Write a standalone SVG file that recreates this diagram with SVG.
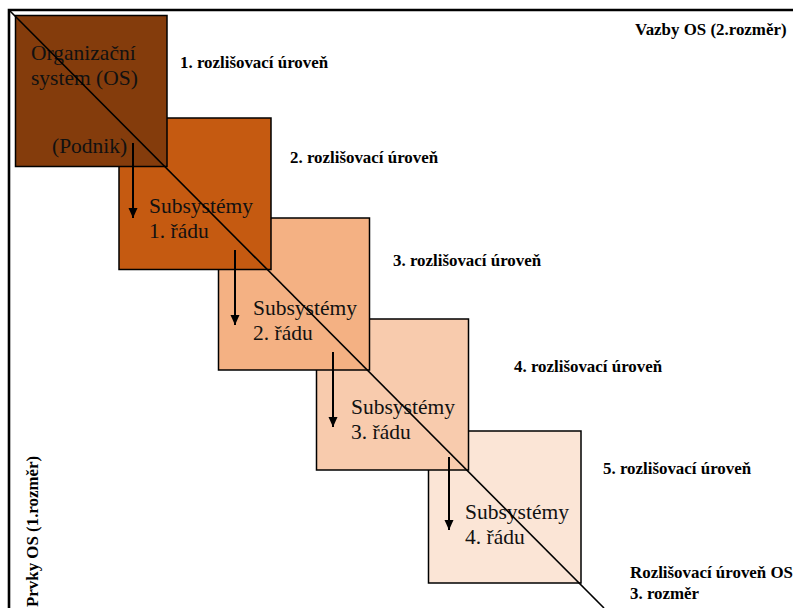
<svg xmlns="http://www.w3.org/2000/svg" width="793" height="608" viewBox="0 0 793 608">
  <style>
    .box { stroke: #000; stroke-width: 1.5; }
    .big { font-family: "Liberation Serif", "Times New Roman", serif; font-size: 21.5px; fill: #111; }
    .lbl { font-family: "Liberation Serif", "Times New Roman", serif; font-size: 16.9px; font-weight: bold; fill: #000; }
    .frame { stroke: #000; stroke-width: 2.6; fill: none; }
    .diag { stroke: #000; stroke-width: 1.6; }
    .arr { stroke: #000; stroke-width: 2; marker-end: url(#head); }
  </style>
  <defs>
    <marker id="head" viewBox="0 0 10 12" refX="10" refY="6" markerWidth="10" markerHeight="12" markerUnits="userSpaceOnUse" orient="auto">
      <path d="M0,1.5 L10,6 L0,10.5 Z" fill="#000"/>
    </marker>
  </defs>
  <rect width="793" height="608" fill="#fff"/>

  <!-- outer frame: axes -->
  <path class="frame" d="M793,10 H9 V608"/>

  <!-- subsystem levels, drawn from the deepest up so upper levels overlap -->
  <g id="level5">
    <rect class="box" x="428.5" y="431" width="152.5" height="152" fill="#FBE5D6"/>
    <text class="big" x="465" y="519">Subsystémy</text>
    <text class="big" x="465" y="544">4. řádu</text>
  </g>
  <g id="level4">
    <rect class="box" x="316.5" y="319" width="152" height="151" fill="#F8CBAD"/>
    <text class="big" x="351" y="414">Subsystémy</text>
    <text class="big" x="351" y="439">3. řádu</text>
  </g>
  <g id="level3">
    <rect class="box" x="218.5" y="218" width="151" height="152" fill="#F4B183"/>
    <text class="big" x="253" y="315">Subsystémy</text>
    <text class="big" x="253" y="340">2. řádu</text>
  </g>
  <g id="level2">
    <rect class="box" x="119" y="118" width="152" height="151.5" fill="#C55A11"/>
    <text class="big" x="149" y="213">Subsystémy</text>
    <text class="big" x="149" y="238">1. řádu</text>
  </g>
  <g id="level1">
    <rect class="box" x="15.5" y="15.5" width="151.5" height="151" fill="#843C0C"/>
    <text class="big" x="31" y="60">Organizační</text>
    <text class="big" x="31" y="85">system (OS)</text>
    <text class="big" x="52" y="153">(Podnik)</text>
  </g>

  <!-- connectors -->
  <g id="connectors">
    <line class="diag" x1="9" y1="10" x2="604" y2="608"/>
    <line class="arr" x1="133" y1="143" x2="133" y2="218"/>
    <line class="arr" x1="235" y1="250" x2="235" y2="325"/>
    <line class="arr" x1="333" y1="352" x2="333" y2="427"/>
    <line class="arr" x1="449" y1="457" x2="449" y2="530"/>
  </g>

  <!-- level and axis labels -->
  <g id="labels">
    <text class="lbl" x="180" y="68">1. rozlišovací úroveň</text>
    <text class="lbl" x="290" y="163">2. rozlišovací úroveň</text>
    <text class="lbl" x="393" y="266">3. rozlišovací úroveň</text>
    <text class="lbl" x="514" y="372">4. rozlišovací úroveň</text>
    <text class="lbl" x="603" y="474">5. rozlišovací úroveň</text>
    <text class="lbl" x="635" y="35">Vazby OS (2.rozměr)</text>
    <text class="lbl" x="630" y="578">Rozlišovací úroveň OS</text>
    <text class="lbl" x="630" y="599">3. rozměr</text>
    <text class="lbl" transform="translate(38,607) rotate(-90)">Prvky OS (1.rozměr)</text>
  </g>
</svg>
